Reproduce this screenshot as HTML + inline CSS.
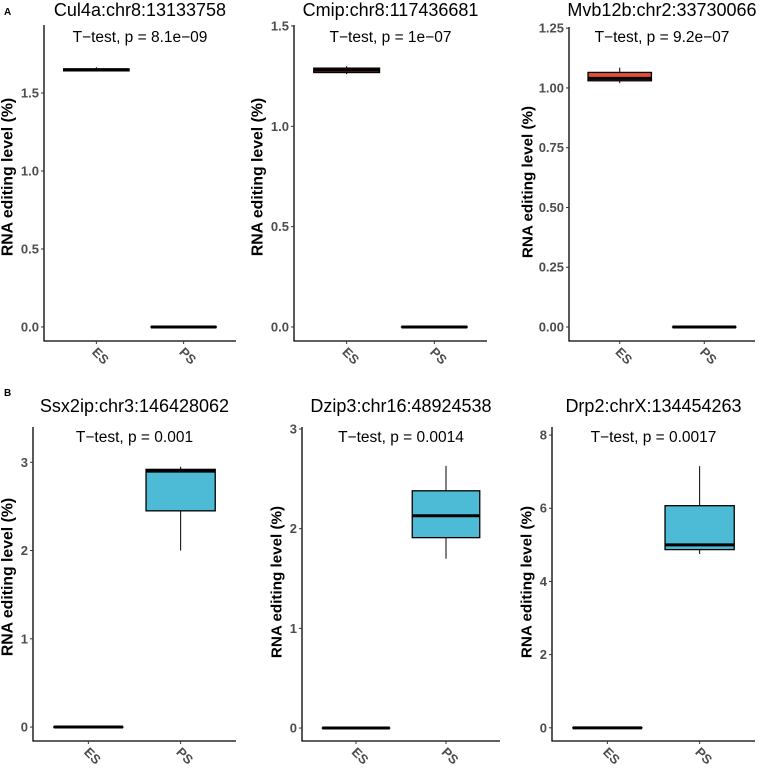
<!DOCTYPE html>
<html><head><meta charset="utf-8"><style>
html,body{margin:0;padding:0;background:#fff}
svg text{font-family:"Liberation Sans",sans-serif}
</style></head><body>
<svg id="fig" width="760" height="767" viewBox="0 0 760 767" xmlns="http://www.w3.org/2000/svg">
<text x="4" y="15" font-size="10" font-weight="bold">A</text>
<text x="4" y="396" font-size="10" font-weight="bold">B</text>
</svg>
<script>
const titles = ["Cul4a:chr8:13133758","Cmip:chr8:117436681","Mvb12b:chr2:33730066","Ssx2ip:chr3:146428062","Dzip3:chr16:48924538","Drp2:chrX:134454263"];
const pvals = ["T\u2212test, p = 8.1e\u221209","T\u2212test, p = 1e\u221207","T\u2212test, p = 9.2e\u221207","T\u2212test, p = 0.001","T\u2212test, p = 0.0014","T\u2212test, p = 0.0017"];
const categories = ["ES","PS"];
const tickValues = [[0,0.5,1.0,1.5],[0,0.5,1.0,1.5],[0,0.25,0.5,0.75,1.0,1.25],[0,1,2,3],[0,1,2,3],[0,2,4,6,8]];
const tickLabels = [["0.0","0.5","1.0","1.5"],["0.0","0.5","1.0","1.5"],["0.00","0.25","0.50","0.75","1.00","1.25"],["0","1","2","3"],["0","1","2","3"],["0","2","4","6","8"]];
const yDomains = [[-0.09,1.936],[-0.07,1.505],[-0.0586,1.255],[-0.158,3.40],[-0.13,3.02],[-0.36,8.22]];
// ES boxes: [lowWhisker, q1, median, q3, highWhisker]
const esBoxes = [[1.64,1.642,1.648,1.655,1.665],[1.26,1.268,1.28,1.29,1.3],[1.02,1.03,1.04,1.065,1.085],[0,0,0,0,0],[0,0,0,0,0],[0,0,0,0,0]];
const psBoxes = [[0,0,0,0,0],[0,0,0,0,0],[0,0,0,0,0],[2.0,2.45,2.9,2.92,2.95],[1.7,1.91,2.13,2.38,2.63],[4.75,4.87,5.0,6.07,7.15]];
const boxColors = ["#222","#E64B35","#E64B35","#4DBBD5","#4DBBD5","#4DBBD5"];

const layout = [
 {x0:44,x1:236,y0:25,y1:341,ty:16,ay:42,yt:8,ytc:177,ytf:15.8},
 {x0:294,x1:487,y0:25,y1:341,ty:16,ay:42,yt:258,ytc:177,ytf:15.8},
 {x0:569,x1:755,y0:27,y1:341,ty:16,ay:42,yt:528,ytc:182,ytf:15.2},
 {x0:33,x1:236,y0:427,y1:741,ty:412,ay:442,yt:8,ytc:577,ytf:15.8},
 {x0:302,x1:500,y0:427,y1:741,ty:412,ay:442,yt:277,ytc:582,ytf:15.2},
 {x0:552,x1:755,y0:427,y1:741,ty:412,ay:442,yt:527,ytc:582,ytf:15.2}
];
const svg=document.getElementById('fig');
const NS="http://www.w3.org/2000/svg";
function mk(tag,attrs,parent){const e=document.createElementNS(NS,tag);for(const k in attrs)e.setAttribute(k,attrs[k]);(parent||svg).appendChild(e);return e;}

for(let p=0;p<6;p++){
  const L=layout[p];
  const g=mk('g',{});
  
  
  const [dmin,dmax]=yDomains[p];
  const ys=v=>L.y1-(v-dmin)/(dmax-dmin)*(L.y1-L.y0);
  const w=L.x1-L.x0;
  const xs=i=>L.x0+(i+0.6)/2.2*w;
  const bw=0.75/2.2*w;
  const cx=(L.x0+L.x1)/2;
  const t=mk('text',{x:cx,y:L.ty,'font-size':18,'text-anchor':'middle',fill:'#000'},g);t.textContent=titles[p];
  
  
  const a=mk('text',{x:cx,y:L.ay,'font-size':15.5,'text-anchor':'middle',fill:'#000'},g);a.textContent=pvals[p];
  
  
  const ax=mk('path',{d:`M${L.x0},${L.y0}V${L.y1}H${L.x1}`,fill:'none',stroke:'#000','stroke-width':1.3},g);
  
  
  tickValues[p].forEach((v,i)=>{
    const y=ys(v);
    mk('line',{x1:L.x0-3,x2:L.x0,y1:y,y2:y,stroke:'#333','stroke-width':1},g);
    const tl=mk('text',{x:L.x0-5,y:y+4.5,'font-size':13,'font-weight':'bold','text-anchor':'end',fill:'#4d4d4d'},g);
    tl.textContent=tickLabels[p][i];
    
    
  });
  const yt=mk('text',{x:0,y:0,'font-size':L.ytf,'font-weight':'bold','text-anchor':'middle','dominant-baseline':'central',fill:'#000',transform:`translate(${L.yt},${L.ytc}) rotate(-90)`},g);
  yt.textContent='RNA editing level (%)';
  
  
  categories.forEach((c,i)=>{
    const x=xs(i);
    mk('line',{x1:x,x2:x,y1:L.y1,y2:L.y1+3,stroke:'#333'},g);
    const xl=mk('text',{x:0,y:0,'font-size':13,'font-weight':'bold','text-anchor':'middle',fill:'#4d4d4d',transform:`translate(${x+1},${L.y1+18}) rotate(45)`},g);
    xl.textContent=c;
    
    
    const b=(i===0?esBoxes:psBoxes)[p];
    const bg=mk('g',{},g);
    
    
    mk('line',{x1:x,x2:x,y1:ys(b[0]),y2:ys(b[4]),stroke:'#000','stroke-width':1},bg);
    const h=Math.max(ys(b[1])-ys(b[3]),0.01);
    mk('rect',{x:x-bw/2,y:ys(b[3]),width:bw,height:h,fill:boxColors[p],stroke:'#000','stroke-width':1.3},bg);
    mk('line',{x1:x-bw/2,x2:x+bw/2,y1:ys(b[2]),y2:ys(b[2]),stroke:'#000','stroke-width':3},bg);
  });
}
</script>
</body></html>
